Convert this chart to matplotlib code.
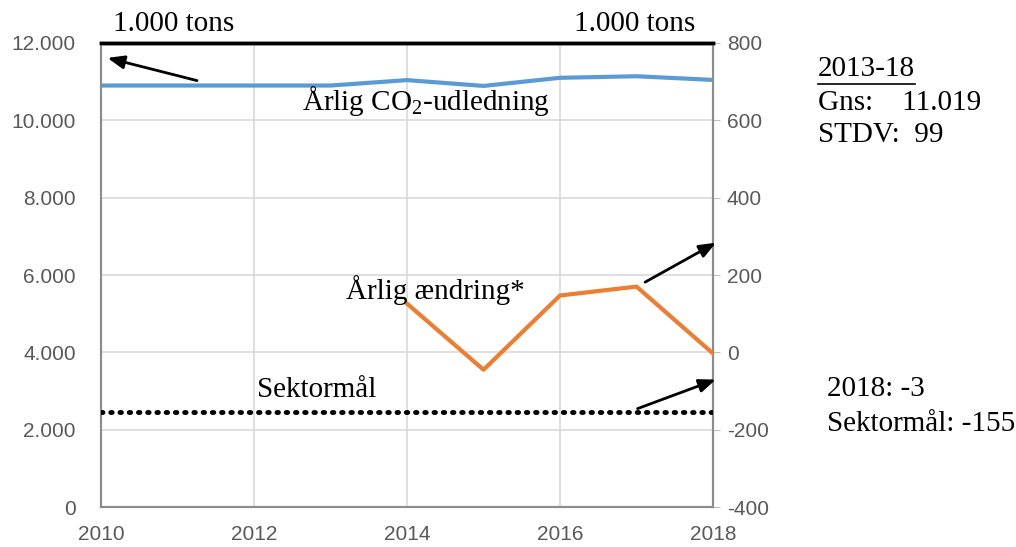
import matplotlib
matplotlib.use("Agg")
import matplotlib.pyplot as plt
from matplotlib.lines import Line2D

# data
years = [2010, 2011, 2012, 2013, 2014, 2015, 2016, 2017, 2018]
co2 = [10900, 10900, 10900, 10900, 11040, 10890, 11100, 11140, 11045]   # 1.000 tons, left axis
chg_years = [2014, 2015, 2016, 2017, 2018]
chg = [126, -45, 147, 170, -3]                                          # right axis
target_years = [2010, 2018]
target = [-155, -155]

left_ticks = [0, 2000, 4000, 6000, 8000, 10000, 12000]
right_ticks = [-400, -200, 0, 200, 400, 600, 800]
x_ticks = [2010, 2012, 2014, 2016, 2018]

SERIF = ["Liberation Serif", "DejaVu Serif"]
TICKF = ["Liberation Sans Narrow", "Liberation Sans", "DejaVu Sans"]
plt.rcParams["mathtext.fontset"] = "custom"
plt.rcParams["mathtext.rm"] = "Liberation Serif"
plt.rcParams["mathtext.it"] = "Liberation Serif"
plt.rcParams["axes.unicode_minus"] = False

W, H = 1016, 547
fig = plt.figure(figsize=(W / 100, H / 100), dpi=100)
ax = fig.add_axes([0.0994, 0.0731, 0.6024, 0.8483])
ax2 = ax.twinx()

grid_c = "#d9d9d9"
tick_c = "#595959"
FS = 21

ax.plot(years, co2, color="#5b9bd5", lw=3, zorder=3)
ax.set_xlim(2010, 2018)
ax.set_ylim(0, 12000)
ax.set_xticks(x_ticks)
ax.set_yticks(left_ticks)
ax.set_yticklabels([f"{v:,}".replace(",", ".") for v in left_ticks])
ax.grid(True, color=grid_c, lw=1.2)
ax.set_axisbelow(True)

ax2.plot(chg_years, chg, color="#ed7d31", lw=3, zorder=3)
ax2.plot(target_years, target, color="black", lw=3.5, linestyle=(0, (0.3, 1.6)),
         dash_capstyle="round", zorder=3)
ax2.set_ylim(-400, 800)
ax2.set_yticks(right_ticks)

for a in (ax, ax2):
    for lab in a.get_xticklabels() + a.get_yticklabels():
        lab.set_family(TICKF)
        lab.set_fontsize(15)
        lab.set_color(tick_c)
    for s in a.spines.values():
        s.set_color("#8c8c8c")
        s.set_linewidth(1.5)
    a.spines["top"].set_color("black")
    a.spines["top"].set_linewidth(2.5)

ax.tick_params(axis="y", length=0, pad=18)
ax.tick_params(axis="x", length=0, pad=13)
ax2.tick_params(axis="y", length=5, color="#bfbfbf", pad=5)


def ftext(x, y, s, ha="left"):
    return fig.text(x / W, 1 - y / H, s, family=SERIF, fontsize=FS, ha=ha, va="center")


# annotations
ftext(113, 24, "1.000 tons")
ftext(695, 24, "1.000 tons", ha="right")
ax.text(2014.25, 10500, "Årlig CO$_2$-udledning", family=SERIF, fontsize=FS,
        ha="center", va="center")
ax2.text(2014.37, 162, "Årlig ændring*", family=SERIF, fontsize=FS, ha="center", va="center")
ax2.text(2012.82, -97, "Sektormål", family=SERIF, fontsize=FS, ha="center", va="center")

arrow = dict(arrowstyle="-|>,head_length=1.0,head_width=0.4", color="black", lw=2)
ax.annotate("", xy=(2010.05, 11632), xytext=(2011.29, 11010), arrowprops=arrow)
ax2.annotate("", xy=(2018.07, 287), xytext=(2017.08, 178), arrowprops=arrow,
             annotation_clip=False)
ax2.annotate("", xy=(2018.07, -68), xytext=(2016.98, -148), arrowprops=arrow,
             annotation_clip=False)

ftext(818, 69, "2013-18")
fig.add_artist(Line2D([818 / W, 915 / W], [1 - 84 / H, 1 - 84 / H], color="black", lw=1.2))
ftext(818, 103, "Gns:    11.019")
ftext(818, 135, "STDV:  99")
ftext(827, 389, "2018: -3")
ftext(827, 424, "Sektormål: -155")

fig.savefig("out.png", dpi=100, facecolor="white")
